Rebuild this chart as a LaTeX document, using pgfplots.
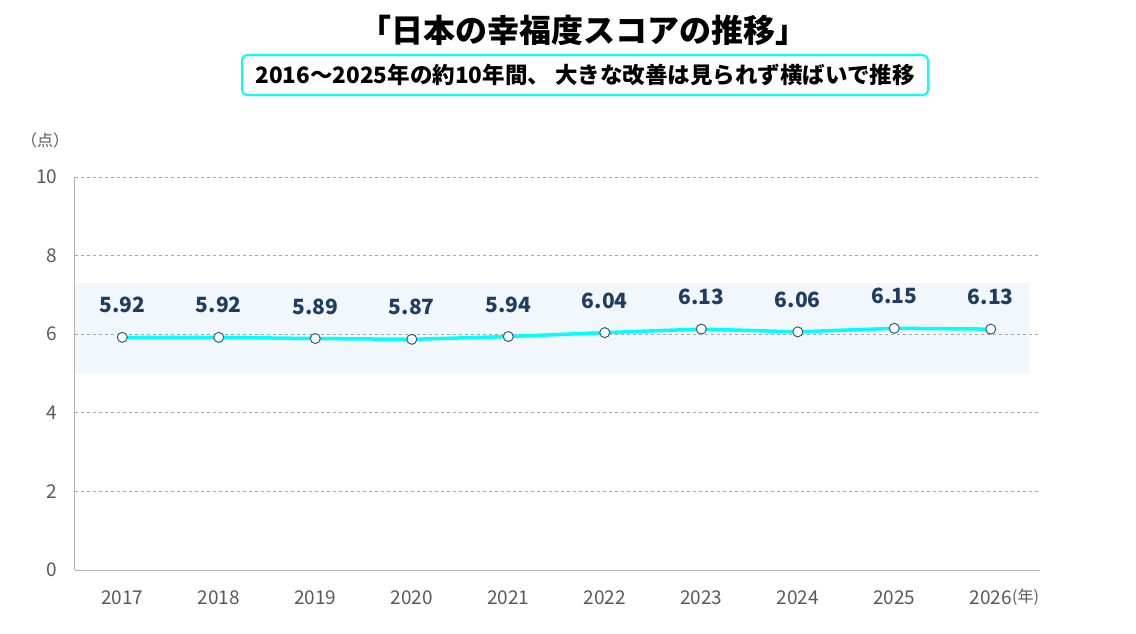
\documentclass[border=0pt]{standalone}
\usepackage{fontspec}
\setmainfont{Noto Sans CJK JP}
\usepackage{pgfplots}
\pgfplotsset{compat=1.18}
\definecolor{navy}{HTML}{1F3D63}
\definecolor{tickgray}{HTML}{595959}
\definecolor{band}{HTML}{F2F7FC}
\definecolor{aqua}{HTML}{00FFFF}
\definecolor{mk}{HTML}{2F5F7F}

\pgfplotstableread{
year score
2017 5.92
2018 5.92
2019 5.89
2020 5.87
2021 5.94
2022 6.04
2023 6.13
2024 6.06
2025 6.15
2026 6.13
}\scores

\pgfplotsset{frame/.style={
    at={(75pt,-570pt)}, anchor=south west,
    scale only axis, width=965pt, height=393pt,
    xmin=2016.51, xmax=2026.51, ymin=0, ymax=10}}

\begin{document}
\begin{tikzpicture}
\path[use as bounding box] (0pt,0pt) rectangle (1136pt,-633pt);
% titles
\node[font=\fontsize{32}{38}\selectfont\bfseries] at (583pt,-30pt) {「日本の幸福度スコアの推移」};
\node[draw=aqua, line width=2pt, rounded corners=5pt, minimum width=686pt, minimum height=40pt,
      font=\fontsize{22.5}{26}\selectfont\bfseries] at (585pt,-75pt)
      {2016～2025年の約10年間、 大きな改善は見られず横ばいで推移};
\node[font=\fontsize{16}{19}\selectfont, text=tickgray] at (45pt,-140pt) {（点）};
\node[font=\fontsize{16}{19}\selectfont, text=tickgray, anchor=west, inner sep=0pt] at (1012pt,-597pt) {(年)};
% background band
\begin{axis}[frame, hide axis]
\addplot[fill=band, draw=none]
    coordinates {(2016.51,5) (2026.4,5) (2026.4,7.3) (2016.51,7.3) (2016.51,5)};
\end{axis}
\begin{axis}[
    frame,
    xtick={2017,...,2026}, ytick={0,2,...,10},
    axis x line*=bottom, axis y line*=left,
    axis line style={-, draw=black!30, line width=1pt},
    ymajorgrids, grid style={dashed, draw=black!35, line width=0.8pt},
    major tick length=0pt,
    tick label style={font=\fontsize{19}{22}\selectfont, text=tickgray},
    /pgf/number format/assume math mode=true,
    /pgf/number format/1000 sep={},
    yticklabel style={xshift=-14pt},
    xticklabel style={yshift=-17pt},
    clip=false,
]
\addplot[aqua, line width=3.5pt, mark=*, mark size=5pt,
    mark options={fill=white, draw=mk, line width=1pt},
    point meta=y,
    nodes near coords={\pgfmathprintnumber[fixed,fixed zerofill,precision=2,assume math mode=true]{\pgfplotspointmeta}},
    every node near coord/.append style={anchor=center, yshift=32pt,
        font=\fontsize{21}{25}\selectfont\bfseries, text=navy},
] table[x=year, y=score] {\scores};
\end{axis}
\end{tikzpicture}
\end{document}
